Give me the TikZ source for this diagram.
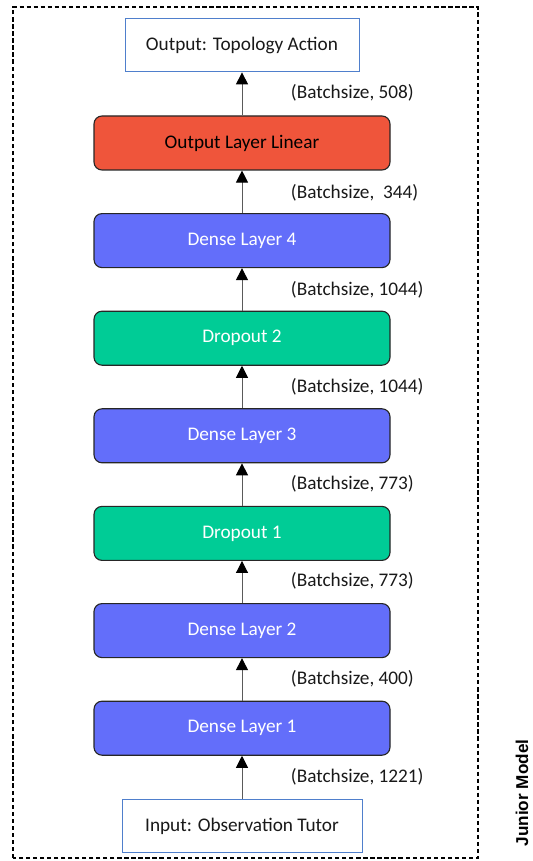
\documentclass[tikz,border=0pt]{standalone}
\usepackage{fontspec}
\setmainfont{Carlito}
\newfontfamily\labelfont{Liberation Sans}
\usepackage{xcolor}
\usetikzlibrary{arrows.meta}
\definecolor{densecol}{HTML}{636EFA}
\definecolor{dropcol}{HTML}{00CC96}
\definecolor{outcol}{HTML}{EF553B}
\definecolor{iocol}{HTML}{4F7FCC}
\definecolor{linecol}{HTML}{5A5A5A}

\begin{document}
\begin{tikzpicture}[
	font=\fontsize{13.7}{16}\selectfont,
	layer/.style={draw=black!85, line width=0.8pt, rounded corners=0.2cm,
		minimum width=7.4cm, minimum height=1.35cm, inner sep=0pt},
	dense/.style={layer, fill=densecol, text=white},
	drop/.style={layer, fill=dropcol, text=white},
	iobox/.style={draw=iocol, line width=0.7pt, fill=white, text=black!90,
		minimum height=1.325cm, inner sep=0pt},
	flow/.style={draw=linecol, line width=0.7pt,
		-{Triangle[width=0.3cm,length=0.3cm,black]}},
	shape label/.style={anchor=west, text=black!90}
	]
	
	\useasboundingbox (0,0) rectangle (13.3,21.525);
	
	% frame round the model
	\draw[line width=1pt, dash pattern=on 3pt off 2pt] (0.325,0.075) rectangle (11.95,21.35);
	\path (13.05,1.7) node[rotate=90, font=\labelfont\bfseries\fontsize{12.2}{14}\selectfont] (junior) {Junior Model};
	
	% the layers, bottom to top
	\node[iobox, minimum width=6cm]    (in)   at (6.05,0.875) {Input: Observation Tutor};
	\node[dense]                       (d1)   at (6.05,3.32)  {Dense Layer 1};
	\node[dense]                       (d2)   at (6.05,5.76)  {Dense Layer 2};
	\node[drop]                        (dp1)  at (6.05,8.19)  {Dropout 1};
	\node[dense]                       (d3)   at (6.05,10.63) {Dense Layer 3};
	\node[drop]                        (dp2)  at (6.05,13.07) {Dropout 2};
	\node[dense]                       (d4)   at (6.05,15.51) {Dense Layer 4};
	\node[layer, fill=outcol]          (lin)  at (6.05,17.95) {Output Layer Linear};
	\node[iobox, minimum width=5.85cm] (out)  at (6.05,20.39) {Output: Topology Action};
	
	\draw[flow] (in)  -- (d1);
	\draw[flow] (d1)  -- (d2);
	\draw[flow] (d2)  -- (dp1);
	\draw[flow] (dp1) -- (d3);
	\draw[flow] (d3)  -- (dp2);
	\draw[flow] (dp2) -- (d4);
	\draw[flow] (d4)  -- (lin);
	\draw[flow] (lin) -- (out);
	
	% tensor shapes between the layers
	\path
		(7.15,2.1)    node[shape label] (s1) {(Batchsize, 1221)}
		(7.15,4.55)   node[shape label] (s2) {(Batchsize, 400)}
		(7.15,7.0)    node[shape label] (s3) {(Batchsize, 773)}
		(7.15,9.425)  node[shape label] (s4) {(Batchsize, 773)}
		(7.15,11.85)  node[shape label] (s5) {(Batchsize, 1044)}
		(7.15,14.275) node[shape label] (s6) {(Batchsize, 1044)}
		(7.15,16.7)   node[shape label] (s7) {(Batchsize,\ \ 344)}
		(7.15,19.2)   node[shape label] (s8) {(Batchsize, 508)};
	
\end{tikzpicture}
\end{document}
